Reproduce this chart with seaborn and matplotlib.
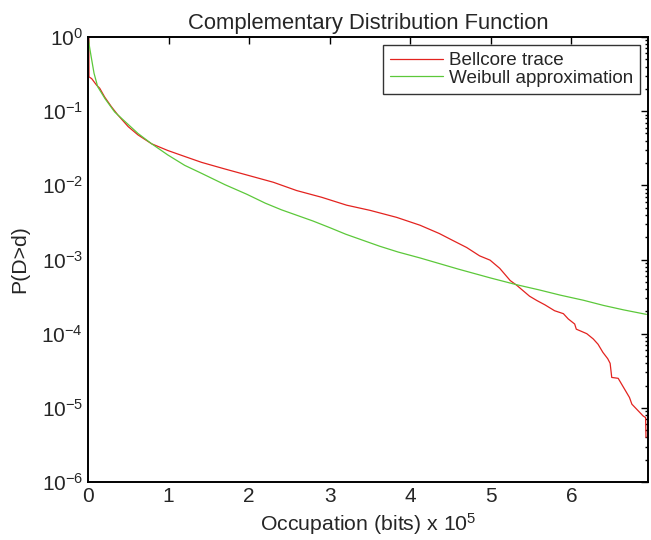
import numpy as np
import pandas as pd
import matplotlib
matplotlib.use("Agg")
import matplotlib.pyplot as plt
import seaborn as sns

# Bellcore trace (occupation in units of 1e5 bits, probability)
bellcore_x = [0.01, 0.012, 0.045, 0.107, 0.145, 0.207, 0.29, 0.37, 0.50, 0.62, 0.79, 0.99,
              1.20, 1.41, 1.57, 1.7, 1.97, 2.3, 2.59, 2.9, 3.21, 3.5, 3.83, 4.12, 4.36,
              4.53, 4.7, 4.86, 4.99, 5.11, 5.24, 5.32, 5.48, 5.57, 5.67, 5.79, 5.90,
              5.96, 6.04, 6.06, 6.19, 6.27, 6.33, 6.39, 6.45, 6.48, 6.50, 6.58, 6.72,
              6.75, 6.89, 6.92, 6.925]
bellcore_p = [1.0, 0.29, 0.275, 0.224, 0.204, 0.155, 0.115, 0.089, 0.0617, 0.0479, 0.0363,
              0.0295, 0.0245, 0.0204, 0.0182, 0.0166, 0.0138, 0.011, 0.0085, 0.0069,
              0.0054, 0.0046, 0.0037, 0.0029, 0.00224, 0.0018, 0.00145, 0.00112, 0.00098,
              0.00076, 0.00052, 0.00045, 0.00032, 0.00028, 0.000245, 0.000204, 0.000186,
              0.000158, 0.000135, 0.000115, 0.0001, 8.5e-5, 7.2e-5, 5.6e-5, 4.6e-5,
              3.98e-5, 2.57e-5, 2.5e-5, 1.38e-5, 1.12e-5, 7.76e-6, 7.4e-6, 4.0e-6]

# Weibull approximation
weibull_x = [0, 0.02, 0.04, 0.075, 0.12, 0.21, 0.33, 0.46, 0.62, 0.79, 0.99, 1.20, 1.41,
             1.70, 1.97, 2.2, 2.4, 2.79, 3.0, 3.2, 3.62, 3.85, 4.12, 4.6, 5.0, 5.32, 5.6,
             5.86, 6.15, 6.4, 6.65, 6.93]
weibull_p = [1.0, 0.724, 0.537, 0.324, 0.214, 0.148, 0.0977, 0.0724, 0.0501, 0.0363,
             0.0257, 0.0186, 0.0145, 0.0102, 0.00759, 0.00575, 0.00468, 0.00331, 0.00269,
             0.00219, 0.00151, 0.00126, 0.00105, 0.00074, 0.000562, 0.000457, 0.000389,
             0.000331, 0.000282, 0.00024, 0.000209, 0.000182]

df = pd.concat([
    pd.DataFrame({"x": bellcore_x, "p": bellcore_p, "series": "Bellcore trace"}),
    pd.DataFrame({"x": weibull_x, "p": weibull_p, "series": "Weibull approximation"}),
], ignore_index=True)

sns.set_style("white")
plt.rcParams["font.family"] = ["Liberation Sans", "DejaVu Sans"]
plt.rcParams["mathtext.fontset"] = "custom"
plt.rcParams["mathtext.rm"] = "Liberation Sans"
plt.rcParams["mathtext.it"] = "Liberation Sans:italic"

fig = plt.figure(figsize=(6.51, 5.4), dpi=100)
ax = fig.add_axes([88 / 651, 58 / 540, 560 / 651, 445 / 540])

sns.lineplot(data=df, x="x", y="p", hue="series", sort=False, estimator=None,
             palette={"Bellcore trace": "#e3231f", "Weibull approximation": "#5cc83a"},
             linewidth=0.9, ax=ax)

ax.set_yscale("log")
ax.set_xlim(0, 6.95)
ax.set_ylim(1e-6, 1)
ax.set_xticks(range(0, 7))
ax.set_yticks([1e0, 1e-1, 1e-2, 1e-3, 1e-4, 1e-5, 1e-6])

for s in ax.spines.values():
    s.set_linewidth(1.4)
    s.set_color("black")

ax.tick_params(which="both", direction="in", top=True, right=True, labelsize=15,
               color="black", width=1.0)
ax.tick_params(which="major", length=5)
ax.tick_params(which="minor", length=2.5)

ax.set_title("Complementary Distribution Function", fontsize=15.8, pad=6)
ax.set_xlabel("Occupation (bits) x 10$^5$", fontsize=15.3, labelpad=4)
ax.set_ylabel("P(D>d)", fontsize=15.3, labelpad=9)

leg = ax.legend(loc="upper right", fontsize=13.6, frameon=True, fancybox=False,
                edgecolor="black", handlelength=2.8, handletextpad=0.3,
                labelspacing=0.0, borderpad=0.4, borderaxespad=0.4)
leg.get_frame().set_linewidth(1.0)

fig.savefig("out.png", dpi=100)
